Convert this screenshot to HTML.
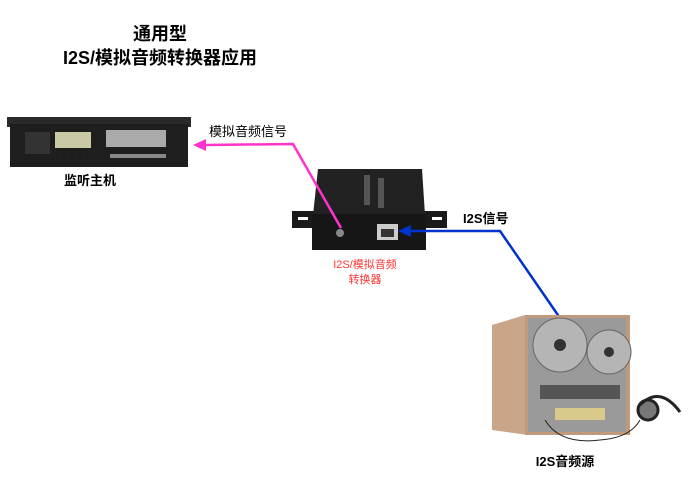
<!DOCTYPE html>
<html><head><meta charset="utf-8"><style>
html,body{margin:0;padding:0;background:#fff;}
body{width:700px;height:495px;overflow:hidden;}
text{font-family:"Liberation Sans","Noto Sans CJK SC",sans-serif;}
</style></head><body>
<svg width="700" height="495" viewBox="0 0 700 495" xmlns="http://www.w3.org/2000/svg">
<text x="160" y="40" font-size="18" font-weight="bold" text-anchor="middle" fill="#000">通用型</text>
<text x="160" y="64" font-size="18" font-weight="bold" text-anchor="middle" fill="#000">I2S/模拟音频转换器应用</text>

<!-- rack unit -->
<rect x="7" y="117" width="184" height="10" fill="#2a2a2a"/>
<rect x="10" y="124" width="178" height="43" fill="#1e1e1e"/>
<rect x="25" y="132" width="25" height="22" fill="#333"/>
<rect x="55" y="132" width="36" height="16" fill="#c9c9a6"/>
<rect x="106" y="130" width="60" height="17" fill="#aaa"/>
<rect x="110" y="154" width="56" height="4" fill="#888"/>
<g fill="#222"><circle cx="60" cy="155" r="2"/><circle cx="68" cy="155" r="2"/><circle cx="76" cy="155" r="2"/><circle cx="84" cy="155" r="2"/></g>
<text x="90" y="185" font-size="13" font-weight="bold" text-anchor="middle">监听主机</text>

<!-- converter -->
<rect x="292" y="211" width="155" height="17" fill="#1a1a1a"/>
<rect x="298" y="217" width="10" height="3" fill="#fff"/>
<rect x="432" y="217" width="10" height="3" fill="#fff"/>
<polygon points="318,169 422,169 425,215 313,215" fill="#222"/>
<rect x="312" y="214" width="114" height="36" fill="#161616"/>
<rect x="364" y="175" width="6" height="30" fill="#555"/>
<rect x="378" y="178" width="6" height="30" fill="#555"/>
<circle cx="340" cy="233" r="4" fill="#888"/>
<rect x="377" y="224" width="21" height="16" fill="#ccc"/>
<rect x="381" y="229" width="13" height="8" fill="#333"/>
<text x="365" y="268" font-size="11" text-anchor="middle" fill="#ff3333">I2S/模拟音频</text>
<text x="365" y="283" font-size="11" text-anchor="middle" fill="#ff3333">转换器</text>

<!-- pink connector -->
<polyline points="205,145 293,144 341,228" fill="none" stroke="#ff33cc" stroke-width="2.5"/>
<polygon points="193,145 206,139 206,151" fill="#ff33cc"/>
<text x="209" y="136" font-size="13" fill="#000">模拟音频信号</text>

<!-- blue connector -->
<polyline points="410,231 500,231 560,318" fill="none" stroke="#0033cc" stroke-width="2.5"/>
<polygon points="398,231 411,225 411,237" fill="#0033cc"/>
<text x="463" y="223" font-size="13" font-weight="bold" fill="#000">I2S信号</text>

<!-- tape deck -->
<polygon points="492,325 525,315 528,435 492,430" fill="#c9a58a"/>
<rect x="525" y="315" width="105" height="120" fill="#c09a7c"/>
<rect x="528" y="318" width="98" height="114" fill="#9a9a9a"/>
<circle cx="560" cy="345" r="27" fill="#b5b5b5" stroke="#666"/>
<circle cx="560" cy="345" r="6" fill="#333"/>
<circle cx="609" cy="352" r="22" fill="#b5b5b5" stroke="#666"/>
<circle cx="609" cy="352" r="5" fill="#333"/>
<rect x="540" y="385" width="80" height="14" fill="#555"/>
<rect x="555" y="408" width="50" height="12" fill="#d9c98a"/>
<circle cx="648" cy="410" r="10" fill="#777" stroke="#222" stroke-width="3"/>
<path d="M640 405 Q660 385 680 412" fill="none" stroke="#222" stroke-width="3"/>
<path d="M545 420 Q560 445 600 440 Q630 438 640 420" fill="none" stroke="#222" stroke-width="1"/>
<text x="565" y="466" font-size="13" font-weight="bold" text-anchor="middle">I2S音频源</text>
</svg>
</body></html>
